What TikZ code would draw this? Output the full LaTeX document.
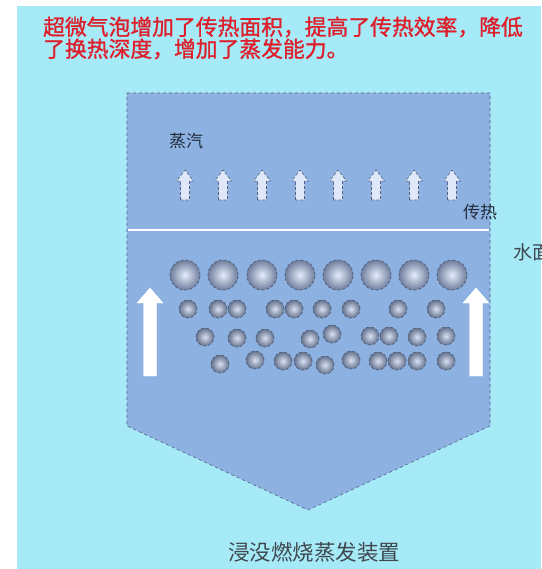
\documentclass[tikz,border=0pt]{standalone}
\usepackage{fontspec}
\newfontfamily\cjk{Noto Sans CJK SC}
\newfontfamily\cjkheavy[FakeBold=1.2]{Noto Sans CJK SC}
\definecolor{bgcyan}{RGB}{166,233,247}
\definecolor{tankblue}{RGB}{141,178,226}
\definecolor{rimgray}{RGB}{80,98,128}
\definecolor{titlered}{RGB}{222,30,42}
\definecolor{inktext}{RGB}{35,45,60}
\definecolor{captiongray}{RGB}{62,72,78}
\definecolor{bubblelight}{RGB}{228,236,252}
\definecolor{bubbleedge}{RGB}{112,126,156}
\definecolor{steamfill}{RGB}{222,232,248}
\begin{document}
\begin{tikzpicture}[x=1pt,y=-1pt,
  tank/.style={fill=tankblue,draw=rimgray,dashed,line width=0.6pt},
  bigbubble/.style={draw=rimgray,densely dashed,line width=0.8pt,inner color=bubblelight,outer color=bubbleedge},
  smallbubble/.style={draw=rimgray,densely dashed,line width=0.7pt,inner color=bubblelight!90!bubbleedge,outer color=bubbleedge!90!black},
  steamarrow/.style={fill=steamfill,draw=rimgray,densely dashed,line width=0.6pt},
  flowarrow/.style={fill=white,draw=white},
  cjklabel/.style={inner sep=0pt,font=\cjk},
  titletext/.style={cjklabel,anchor=west,text=titlered,font=\cjkheavy\fontsize{21.8}{24}\selectfont},
  smallarrow/.pic={\path[pic actions] (-4.5,0) -- (-4.5,-19) -- (-8.5,-19) -- (0,-30) -- (8.5,-19) -- (4.5,-19) -- (4.5,0) -- cycle;},
  bigarrow/.pic={\path[pic actions] (-6.5,0) -- (-6.5,-73) -- (-13,-73) -- (0,-88) -- (13,-73) -- (6.5,-73) -- (6.5,0) -- cycle;}
]
\useasboundingbox (0,0) rectangle (541,569);
\fill[white] (0,0) rectangle (541,569);
\fill[bgcyan] (17,6) rectangle (541,569);

% vessel outline and water surface
\draw[tank] (127,93) -- (490,93) -- (490,426) -- (308,510) -- (127,426) -- cycle;
\draw[white,line width=1.3pt] (128,230) -- (489,230);

% heading
\node[titletext] (title1) at (43,27) {超微气泡增加了传热面积，提高了传热效率，降低};
\node[titletext] (title2) at (43,49) {了换热深度，增加了蒸发能力。};

% labels
\node[cjklabel,anchor=west,text=inktext,font=\cjk\fontsize{17}{19}\selectfont] (steam) at (169,141) {蒸汽};
\node[cjklabel,anchor=west,text=inktext,font=\cjk\fontsize{17}{19}\selectfont] (heat) at (463,212) {传热};
\node[cjklabel,anchor=west,text=captiongray,font=\cjk\fontsize{19}{21}\selectfont] (surface) at (513,252) {水面};
\node[cjklabel,text=captiongray,font=\cjk\fontsize{21.5}{24}\selectfont] (caption) at (314,552) {浸没燃烧蒸发装置};

% rising steam
\foreach \x in {185,223,262,300,338,376,414,452}
  \pic[steamarrow] at (\x,200) {smallarrow};

% large bubbles under the surface
\foreach \x in {185,223,262,300,338,376,414,452}
  \path[bigbubble] (\x,275) circle (15pt);

% small bubbles
\foreach \x/\y in {188/309,218/309,237/309,275/309,294/309,322/309,351/309,398/309,436/309,
                   205/337,237/338,265/338,310/339,332/334,370/336,389/336,417/337,446/336,
                   220/364,255/360,283/361,303/361,325/365,351/360,378/361,397/361,417/361,446/361}
  \path[smallbubble] (\x,\y) circle (9pt);

% circulation arrows at the walls
\pic[flowarrow] at (150,376) {bigarrow};
\pic[flowarrow] at (476,376) {bigarrow};
\end{tikzpicture}
\end{document}
